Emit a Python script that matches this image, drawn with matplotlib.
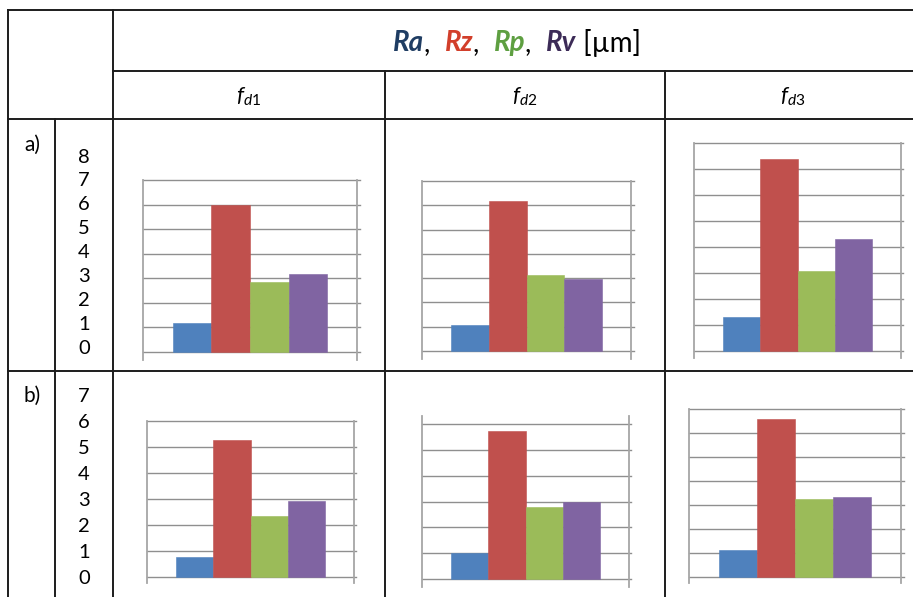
import matplotlib
matplotlib.use('Agg')
import matplotlib.pyplot as plt
from matplotlib.lines import Line2D

plt.rcParams['font.family'] = ['Lato', 'DejaVu Sans']
plt.rcParams['mathtext.fontset'] = 'custom'
plt.rcParams['mathtext.it'] = 'Lato:italic'
plt.rcParams['mathtext.rm'] = 'Lato'

W, H = 913, 597

# parameters shown in every small chart (Ra, Rz, Rp, Rv)
params = ['Ra', 'Rz', 'Rp', 'Rv']
bar_colors = ['#4F81BD', '#C0504D', '#9BBB59', '#8064A2']
header_colors = ['#1F3D63', '#D23F2B', '#5E9F41', '#3C2B57']

col_labels = [r'$\mathit{f}_{\mathit{d1}}$', r'$\mathit{f}_{\mathit{d2}}$', r'$\mathit{f}_{\mathit{d3}}$']
row_labels = ['a)', 'b)']

# values [um]
a_fd1 = [1.20, 6.00, 2.86, 3.16]
a_fd2 = [1.08, 6.18, 3.14, 2.97]
a_fd3 = [1.31, 7.38, 3.06, 4.30]
b_fd1 = [0.77, 5.27, 2.35, 2.94]
b_fd2 = [1.00, 5.74, 2.78, 3.00]
b_fd3 = [1.14, 6.59, 3.26, 3.33]

a_ymax = [7, 7, 8]
b_ymax = [6, 6, 7]

a_ticks = ['0', '1', '2', '3', '4', '5', '6', '7', '8']
b_ticks = ['0', '1', '2', '3', '4', '5', '6', '7']


def fx(x):
    return x / W


def fy(y):
    return 1 - y / H


fig = plt.figure(figsize=(W / 100, H / 100), dpi=100)
fig.patch.set_facecolor('white')

# table lines
line_col = '#1c1c1c'
def hline(y, x0, x1):
    fig.add_artist(Line2D([fx(x0), fx(x1)], [fy(y), fy(y)], color=line_col, lw=1.4,
                          transform=fig.transFigure))

def vline(x, y0, y1):
    fig.add_artist(Line2D([fx(x), fx(x)], [fy(y0), fy(y1)], color=line_col, lw=1.4,
                          transform=fig.transFigure))

hline(10, 8, W)
hline(71, 113, W)
hline(119, 8, W)
hline(371, 8, W)
vline(8, 10, H)
vline(113, 10, H)
vline(55, 119, H)
vline(385, 71, H)
vline(665, 71, H)

# header with coloured parameter names
pieces = []
for i, p in enumerate(params):
    pieces.append((p, header_colors[i], 'bold', 'italic'))
    if i < len(params) - 1:
        pieces.append((',  ', 'black', 'normal', 'normal'))
pieces.append((' [µm]', 'black', 'normal', 'normal'))

texts = []
for s, c, w, st in pieces:
    t = fig.text(0, fy(43), s, color=c, fontweight=w, fontstyle=st, fontsize=20,
                 va='center', ha='left')
    texts.append(t)
fig.canvas.draw()
renderer = fig.canvas.get_renderer()
widths = [t.get_window_extent(renderer).width for t in texts]
x = 517 - sum(widths) / 2
for t, w in zip(texts, widths):
    t.set_x(fx(x))
    x += w

# column headers
for lab, cx in zip(col_labels, [249, 525, 793]):
    fig.text(fx(cx), fy(97), lab, fontsize=16, ha='center', va='center')

# row labels and y value labels
fig.text(fx(32), fy(145), row_labels[0], fontsize=15, ha='center', va='center')
fig.text(fx(32), fy(396), row_labels[1], fontsize=15, ha='center', va='center')
for i, lab in enumerate(a_ticks):
    fig.text(fx(84), fy(349 - i * 24.0), lab, fontsize=14.5, ha='center', va='center')
for i, lab in enumerate(b_ticks):
    fig.text(fx(84), fy(578.3 - i * 25.95), lab, fontsize=14.5, ha='center', va='center')

# chart boxes: left, right, top of vertical lines, px of ymax, px of zero, bottom of vertical lines
boxes = [
    (143, 357, 180, 180, 352, 360),
    (422, 631, 181, 181, 351, 359),
    (694, 901, 143, 143, 351, 358),
    (147, 354, 421, 421, 577, 583),
    (422, 629, 416, 424, 579, 587),
    (689, 901, 409, 409, 577, 583),
]
data = [a_fd1, a_fd2, a_fd3, b_fd1, b_fd2, b_fd3]
ymaxes = a_ymax + b_ymax

grid_col = '#8f8f8f'
for (l, r, top, gtop, zero, bot), vals, ymax in zip(boxes, data, ymaxes):
    ax = fig.add_axes([fx(l), fy(bot), (r - l) / W, (bot - top) / H])
    scale = (zero - gtop) / ymax
    ax.set_ylim(-(bot - zero) / scale, ymax + (gtop - top) / scale)
    margin = (4 / 0.72 - 4) / 2
    ax.set_xlim(-0.5 - margin, 3.5 + margin)
    for v in range(ymax + 1):
        ax.axhline(v, xmin=0, xmax=1.012, color=grid_col, lw=1.0, clip_on=False, zorder=1)
    ax.bar(range(4), vals, width=1.0, color=bar_colors, edgecolor=bar_colors,
           linewidth=0.4, zorder=3)
    for side in ['top', 'bottom']:
        ax.spines[side].set_visible(False)
    for side in ['left', 'right']:
        ax.spines[side].set_color('#a6a6a6')
        ax.spines[side].set_linewidth(1.3)
    ax.set_xticks([])
    ax.set_yticks([])
    ax.patch.set_alpha(0)

fig.savefig('out.png', dpi=100, facecolor='white')
